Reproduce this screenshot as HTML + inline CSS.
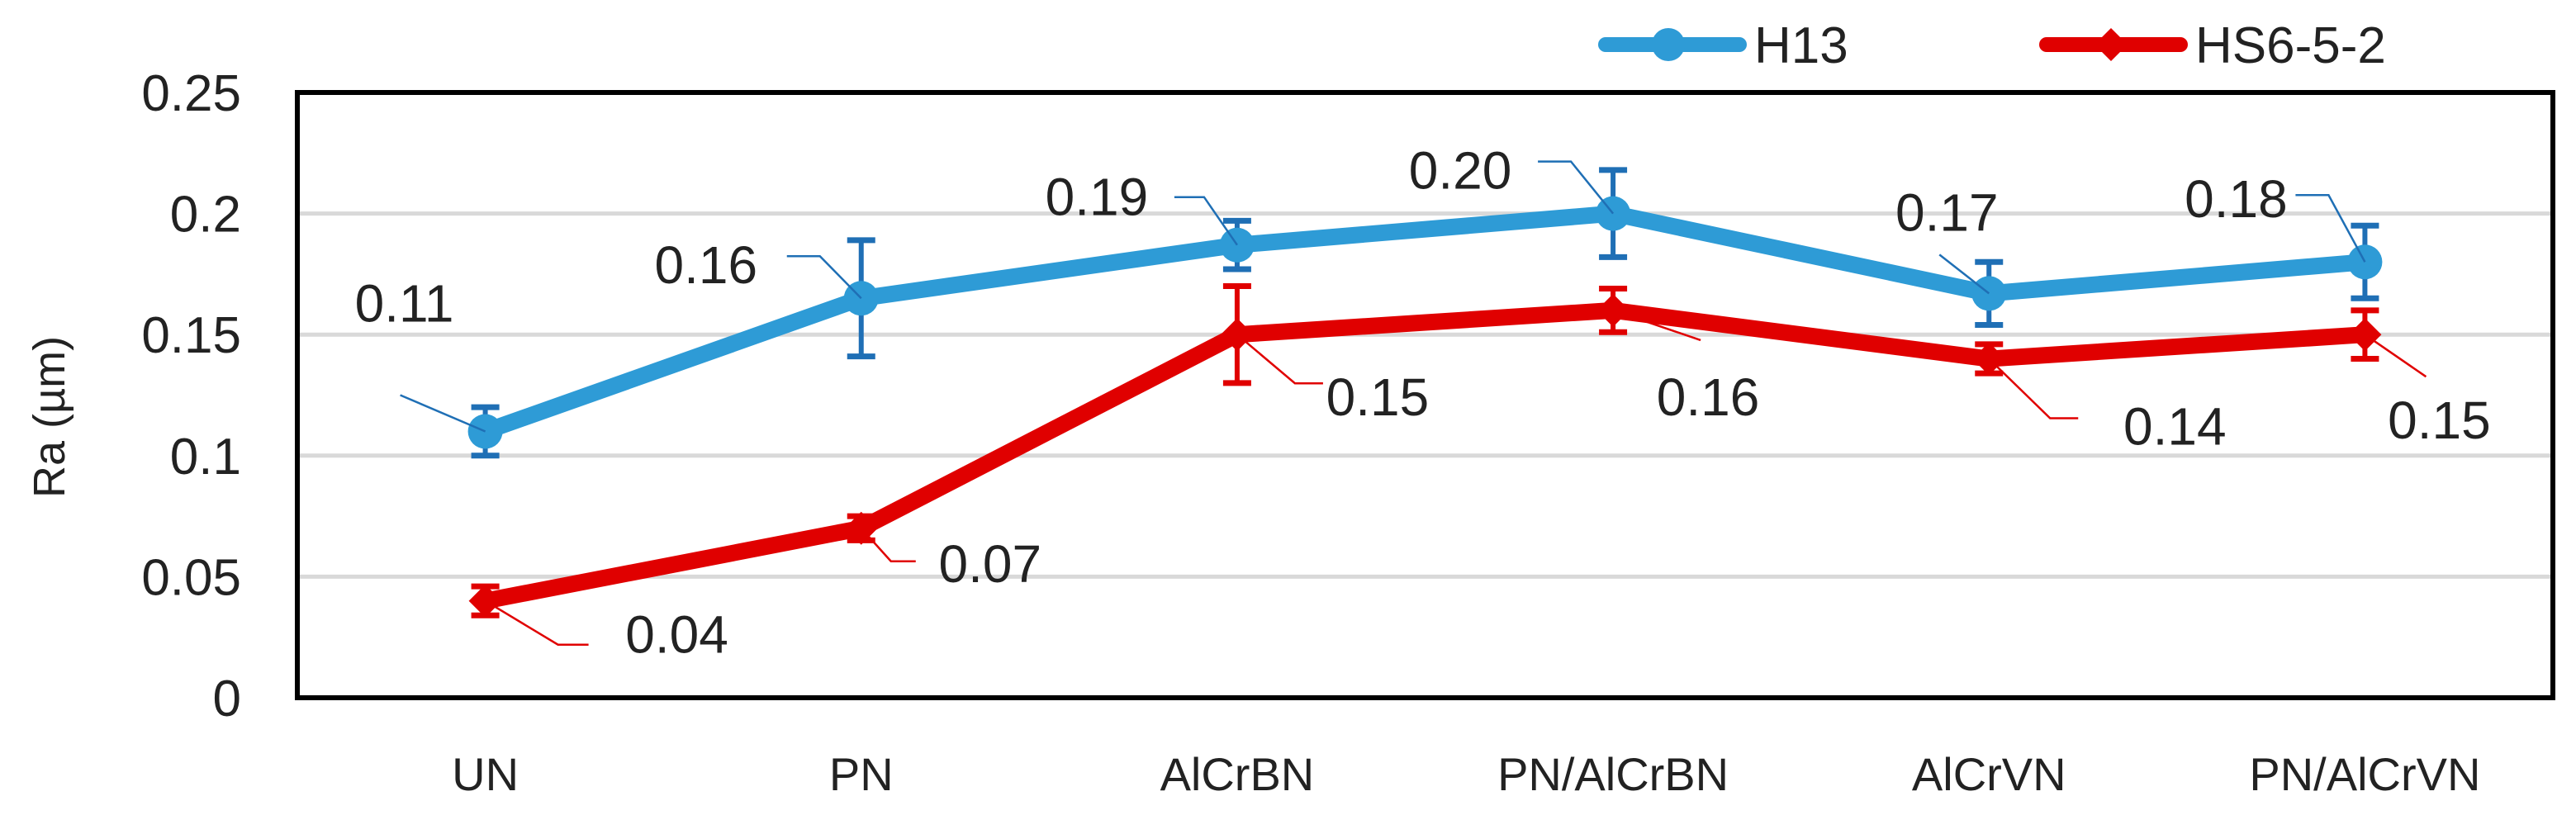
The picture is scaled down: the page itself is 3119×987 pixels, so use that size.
<!DOCTYPE html>
<html><head><meta charset="utf-8"><style>
html,body{margin:0;padding:0;background:#fff;}
svg{display:block;font-family:"Liberation Sans",sans-serif;}
</style></head><body>
<svg id="chart" width="3119" height="987" viewBox="0 0 3119 987" xmlns="http://www.w3.org/2000/svg"></svg>
<script>
const categories = ["UN","PN","AlCrBN","PN/AlCrBN","AlCrVN","PN/AlCrVN"];
const h13Values = [0.11,0.165,0.187,0.20,0.167,0.18];
const h13Errors = [0.01,0.024,0.01,0.018,0.013,0.015];
const h13Labels = ["0.11","0.16","0.19","0.20","0.17","0.18"];
const hsValues = [0.04,0.07,0.15,0.16,0.14,0.15];
const hsErrors = [0.006,0.005,0.02,0.009,0.006,0.01];
const hsLabels = ["0.04","0.07","0.15","0.16","0.14","0.15"];
const yTicks = [0,0.05,0.1,0.15,0.2,0.25];
const yTickLabels = ["0","0.05","0.1","0.15","0.2","0.25"];

const NS="http://www.w3.org/2000/svg";
const svg=document.getElementById('chart');
const L=360,R=3091,T=112,B=845,YMAX=0.25;
const bw=(R-L)/categories.length;
function xs(i){return L+bw*(i+0.5);}
function ys(v){return B-(v/YMAX)*(B-T);}
function mk(tag,attrs,parent){const e=document.createElementNS(NS,tag);for(const k in attrs)e.setAttribute(k,attrs[k]);(parent||svg).appendChild(e);return e;}

yTicks.forEach((t,i)=>{
  if(t>0&&t<YMAX){const g=mk('line',{x1:L,x2:R,y1:ys(t),y2:ys(t),stroke:'#d9d9d9','stroke-width':5});
  
  }
  const tl=mk('text',{x:292,y:ys(t)+22,'text-anchor':'end','font-size':62,fill:'#222'});
  tl.textContent=yTickLabels[i];
  
  
});
const frame=mk('rect',{x:L,y:T,width:R-L,height:B-T,fill:'none',stroke:'#000','stroke-width':6});



categories.forEach((c,i)=>{
  const t=mk('text',{x:xs(i),y:957,'text-anchor':'middle','font-size':56,fill:'#222'});
  t.textContent=c;
  
  
});
const yt=mk('text',{x:0,y:0,'text-anchor':'middle','font-size':54,fill:'#222',transform:'translate(78,505) rotate(-90)'});
yt.textContent='Ra (µm)';



// label layout: [text dx, text dy, elbow dx, elbow dy, horizontal length]
const h13Lay=[[-98,-156,-103,-44,0],[-188,-41,-50,-51,-40],[-170,-59,-40,-58,-36],[-185,-53,-51,-63,-40],[-51,-99,-60,-47,0],[-156,-77,-44,-81,-40]];
const hsLay=[[232,40,88,53,37],[156,42,36,40,30],[170,75,70,59,34],[115,104,106,36,0],[225,81,74,72,34],[90,103,74,51,0]];

function series(vals,errs,labs,lay,color,errColor,shape,name){
  const pts=vals.map((v,i)=>xs(i)+','+ys(v)).join(' ');
  const pl=mk('polyline',{points:pts,fill:'none',stroke:color,'stroke-width':20,'stroke-linejoin':'round'});
  
  
  vals.forEach((v,i)=>{
    const x=xs(i),y=ys(v),y1=ys(v+errs[i]),y2=ys(v-errs[i]);
    const g=mk('g',{});
    
    
    mk('line',{x1:x,x2:x,y1:y1,y2:y2,stroke:errColor,'stroke-width':6},g);
    mk('line',{x1:x-17,x2:x+17,y1:y1,y2:y1,stroke:errColor,'stroke-width':7},g);
    mk('line',{x1:x-17,x2:x+17,y1:y2,y2:y2,stroke:errColor,'stroke-width':7},g);
    let m;
    if(shape==='circle') m=mk('circle',{cx:x,cy:y,r:21,fill:color});
    else m=mk('polygon',{points:`${x},${y-20} ${x+20},${y} ${x},${y+20} ${x-20},${y}`,fill:color});
    
    
    const o=lay[i];
    const tx=x+o[0],ty=y+o[1],ex=x+o[2],ey=y+o[3],hx=ex+o[4];
    const ld=mk('polyline',{points:`${hx},${ey} ${ex},${ey} ${x},${y}`,fill:'none',stroke:errColor,'stroke-width':2.5});
    
    
    const t=mk('text',{x:tx,y:ty+23,'text-anchor':'middle','font-size':64,fill:'#222'});
    t.textContent=labs[i];
    
    
  });
}
series(h13Values,h13Errors,h13Labels,h13Lay,'#2e9bd6','#1f6fb5','circle','h13');
series(hsValues,hsErrors,hsLabels,hsLay,'#e00000','#e00000','diamond','hs652');

const lg=mk('g',{});


const e1=mk('g',{},lg);


mk('line',{x1:1944,x2:2106,y1:54,y2:54,stroke:'#2e9bd6','stroke-width':18,'stroke-linecap':'round'},e1);
mk('circle',{cx:2020,cy:54,r:20,fill:'#2e9bd6'},e1);
const t1=mk('text',{x:2124,y:76,'font-size':62,fill:'#222'},e1);t1.textContent='H13';
const e2=mk('g',{},lg);


mk('line',{x1:2478,x2:2640,y1:54,y2:54,stroke:'#e00000','stroke-width':18,'stroke-linecap':'round'},e2);
mk('polygon',{points:'2556,34 2576,54 2556,74 2536,54',fill:'#e00000'},e2);
const t2=mk('text',{x:2658,y:76,'font-size':62,fill:'#222'},e2);t2.textContent='HS6-5-2';
</script>
</body></html>
